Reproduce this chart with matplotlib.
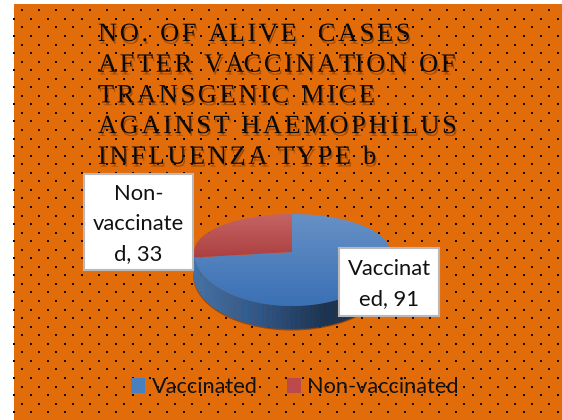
import numpy as np
import matplotlib
matplotlib.use('Agg')
import matplotlib.pyplot as plt
import matplotlib.patheffects as pe
from matplotlib.patches import Patch, Rectangle, Polygon
from matplotlib.text import Text

W, H = 562, 420

categories = ['Vaccinated', 'Non-vaccinated']
values = [91, 33]
title_lines = ['NO. OF ALIVE  CASES', 'AFTER VACCINATION OF', 'TRANSGENIC MICE',
               'AGAINST HAEMOPHILUS', 'INFLUENZA TYPE b']
top_colors = [('#6791c6', '#3a70b5'), ('#c46464', '#a93a3a')]
legend_colors = ['#4a7fc0', '#bd4a4a']


class SpacedText(Text):
    # Text with letter spacing, keeps the whole string as one artist
    tracking = 2.65

    def draw(self, renderer):
        full = self.get_text()
        x0, y0 = self.get_position()
        prop = self.get_fontproperties()
        bar = renderer.get_text_width_height_descent('|', prop, False)[0]
        for i, ch in enumerate(full):
            adv = renderer.get_text_width_height_descent(full[:i] + '|', prop, False)[0] - bar
            self.set_text(ch)
            self.set_position((x0 + adv + i * self.tracking, y0))
            super().draw(renderer)
        self.set_text(full)
        self.set_position((x0, y0))


fig = plt.figure(figsize=(W / 100, H / 100), dpi=100, facecolor='white')

# background in pixel coords
bg = fig.add_axes([0, 0, 1, 1])
bg.set_xlim(0, W)
bg.set_ylim(H, 0)
bg.axis('off')
bg.add_patch(Rectangle((14, 4), W - 14, H - 4, facecolor='#e36c0a', edgecolor='none'))

# dotted texture, two staggered rows (sits over the title text)
for i, y in enumerate(np.arange(10.3, H, 8.55)):
    if i % 2 == 0:
        xs = np.arange(22, W, 17)
        bg.scatter(xs, np.full(xs.shape, y), marker='s', s=1.6, color='#1a0d00', linewidths=0, zorder=5)
    else:
        xs = np.arange(14, W, 17)
        bg.scatter(xs, np.full(xs.shape, y), marker='s', s=3.0, color='#0d0600', linewidths=0, zorder=5)

# title
for i, line in enumerate(title_lines):
    t = SpacedText(98, 41 + i * 30.7, line, family='Liberation Serif', fontsize=19,
                   color='#0a0a0a', va='baseline', ha='left', zorder=3,
                   path_effects=[pe.withSimplePatchShadow(offset=(1, -2), shadow_rgbFace='#4a2000', alpha=0.4)])
    bg.add_artist(t)

# pie, squashed to the ellipse of the top face
left, right, top, bottom = 194, 390, 214, 306
ax = fig.add_axes([left / W, 1 - bottom / H, (right - left) / W, (bottom - top) / H])
wedges, _ = ax.pie(values, startangle=90, counterclock=False, radius=1)
apex_y = (((top + bottom) / 2) - 252) / ((bottom - top) / 2)
depth = 23 / ((bottom - top) / 2)


def warp(y):
    return np.where(y >= 0, apex_y + y * (1 - apex_y), apex_y + y * (1 + apex_y))


# side wall
side_t = np.radians(np.linspace(180, 360, 121))
side_cols = matplotlib.colors.LinearSegmentedColormap.from_list(
    'side', ['#4272a8', '#2f5688', '#1a3352', '#1c3556'])
for i in range(len(side_t) - 1):
    t = side_t[i:i + 2]
    x = np.cos(t)
    y = warp(np.sin(t))
    frac = (x.mean() + 1) / 2
    ax.fill([x[0], x[1], x[1], x[0]], [y[0], y[1], y[1] - depth, y[0] - depth],
            color=side_cols(frac), lw=0.4, clip_on=False, zorder=2)
t = np.radians(np.linspace(180, 360, 121))
ax.plot(np.cos(t), warp(np.sin(t)) - depth - 0.015, color='#7a3a08', lw=1.2, alpha=0.7,
        clip_on=False, zorder=1.5)

# top face with vertical gradient
for w, (c1, c2), low in zip(wedges, top_colors, [-1, -0.1]):
    t = np.radians(np.linspace(w.theta1, w.theta2, 200))
    px = np.r_[0, np.cos(t)]
    py = np.r_[apex_y, warp(np.sin(t))]
    w.set_visible(False)
    cmap = matplotlib.colors.LinearSegmentedColormap.from_list('g', [c1, c2])
    im = ax.imshow(np.linspace(0, 1, 128).reshape(-1, 1), cmap=cmap, aspect='auto',
                   extent=[-1, 1, low, 1], zorder=3)
    poly = Polygon(np.c_[px, py], closed=True, transform=ax.transData, facecolor='none', edgecolor='none')
    ax.add_patch(poly)
    im.set_clip_path(poly)
ax.set_xlim(-1, 1)
ax.set_ylim(-1, 1)
ax.set_aspect('auto')
ax.axis('off')

# data label boxes on top
fg = fig.add_axes([0, 0, 1, 1], facecolor='none')
fg.set_xlim(0, W)
fg.set_ylim(H, 0)
fg.axis('off')
boxes = [(339, 248, 100, 68), (84, 174, 109, 96)]
label_text = [f'Vaccinat\ned, {values[0]}', f'Non-\nvaccinate\nd, {values[1]}']
for (x, y, bw, bh), s in zip(boxes, label_text):
    fg.add_patch(Rectangle((x, y), bw, bh, facecolor='white', edgecolor='#b9b9b9', lw=1.5))
    fg.text(x + bw / 2, y + bh / 2 + 2, s, family='Lato', fontsize=15.8, color='#111111',
            ha='center', va='center', linespacing=1.65)

handles = [Patch(facecolor=c, edgecolor='none') for c in legend_colors]
fig.legend(handles, categories, loc='center', bbox_to_anchor=(295 / W, 1 - 387 / H), ncol=2,
           frameon=False, prop={'family': 'Lato', 'size': 15.7}, handlelength=0.64, handleheight=0.64,
           handletextpad=0.3, columnspacing=1.35, labelcolor='#111111', borderpad=0, borderaxespad=0)

plt.savefig('out.png', dpi=100)
